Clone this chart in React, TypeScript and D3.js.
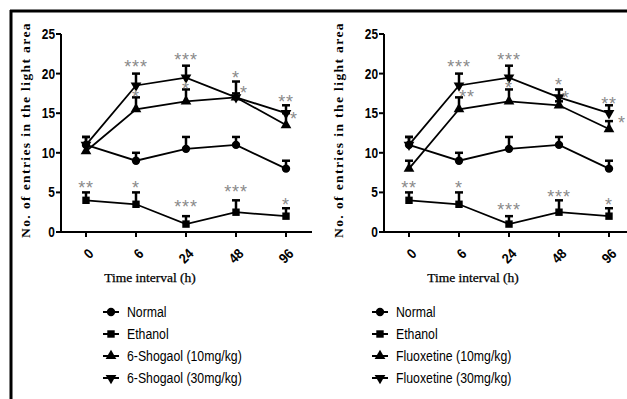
import React from "react";
import * as d3 from "d3";

const times = ["0", "6", "24", "48", "96"];
const yTicks = [0, 5, 10, 15, 20, 25];

// mean values + upper error
const normal = [11, 9, 10.5, 11, 8];
const normalErr = [1, 1, 1.5, 1, 1];
const ethanol = [4, 3.5, 1, 2.5, 2];
const ethanolErr = [1, 1.5, 1, 1.5, 1];

const shogaol10 = [10.2, 15.5, 16.5, 17, 13.5];
const shogaol10Err = [0.8, 1.5, 1.5, 0.5, 1.5];
const shogaol30 = [11, 18.5, 19.5, 17, 15];
const shogaol30Err = [1, 1.5, 1.5, 2, 1];

const fluox10 = [8, 15.5, 16.5, 16, 13];
const fluox10Err = [1, 1.5, 1.5, 0.5, 1];
const fluox30 = [11, 18.5, 19.5, 17, 15];
const fluox30Err = [1, 1.5, 1.5, 1, 1];

const legendLeft = ["Normal", "Ethanol", "6-Shogaol (10mg/kg)", "6-Shogaol (30mg/kg)"];
const legendRight = ["Normal", "Ethanol", "Fluoxetine (10mg/kg)", "Fluoxetine (30mg/kg)"];

// significance marks: [time index, value, text, dx]
const starsLeft: [number, number, string, number][] = [
  [1, 21.5, "***", 0], [1, 17.7, "*", 0],
  [2, 22.3, "***", 0], [2, 18.6, "*", 0],
  [3, 20.1, "*", 0], [3, 18.2, "*", 8],
  [4, 17.0, "**", 0], [4, 14.9, "*", 8],
  [0, 6.2, "**", 0], [1, 6.2, "*", 0], [2, 3.7, "***", 0],
  [3, 5.6, "***", 0], [4, 4.0, "*", 0],
];
const starsRight: [number, number, string, number][] = [
  [1, 21.5, "***", 0], [1, 17.7, "**", 8],
  [2, 22.3, "***", 0], [2, 18.8, "*", 0],
  [3, 19.2, "*", 0], [3, 17.5, "*", 7],
  [4, 16.8, "**", 0], [4, 14.4, "*", 13],
  [0, 6.2, "**", 0], [1, 6.2, "*", 0], [2, 3.4, "***", 0],
  [3, 5.0, "***", 0], [4, 4.0, "*", 0],
];

const symbols = [d3.symbolCircle, d3.symbolSquare, d3.symbolTriangle, d3.symbolTriangle];
const symSizes = [55, 55, 50, 50];
const sans = "'Liberation Sans', Arial, sans-serif";
const serif = "'Liberation Serif', 'Times New Roman', serif";

function Marker({ i, x, y }: { i: number; x: number; y: number }) {
  const p = d3.symbol().type(symbols[i]).size(symSizes[i])() || "";
  const rot = i === 3 ? 180 : 0;
  return <path d={p} transform={`translate(${x},${y}) rotate(${rot})`} fill="#000" />;
}

function Panel(props: {
  axisX: number;
  axisEnd: number;
  first: number;
  series: number[][];
  errs: number[][];
  stars: [number, number, string, number][];
  legend: string[];
  legendX: number;
  titleX: number;
}) {
  const { axisX, axisEnd, first, series, errs, stars, legend, legendX, titleX } = props;
  const y = d3.scaleLinear().domain([0, 25]).range([232, 34]);
  const x = d3.scalePoint<string>().domain(times).range([first, first + 200]);
  const line = d3
    .line<number>()
    .x((_, i) => x(times[i]) as number)
    .y((d) => y(d));
  // drug series first, then normal / ethanol on top
  const order = [2, 3, 0, 1];
  return (
    <g>
      {/* y axis */}
      <line x1={axisX} x2={axisX} y1={y(25)} y2={y(0)} stroke="#000" strokeWidth={2} />
      {yTicks.map((t) => (
        <g key={t}>
          <line x1={axisX - 5} x2={axisX} y1={y(t)} y2={y(t)} stroke="#000" strokeWidth={2} />
          <text transform={`translate(${axisX - 6},${y(t)}) scale(0.85,1)`} dy="0.36em" textAnchor="end"
            fontFamily={sans} fontWeight="bold" fontSize={14}>{t}</text>
        </g>
      ))}
      <text transform={`translate(${titleX},${(y(0) + y(25)) / 2 - 3}) rotate(-90)`} textAnchor="middle"
        fontFamily={serif} fontWeight="bold" fontSize={13.5} letterSpacing={1.4}>
        No. of entries in the light area
      </text>
      {/* x axis */}
      <line x1={axisX - 1} x2={axisEnd} y1={y(0)} y2={y(0)} stroke="#000" strokeWidth={2} />
      {times.map((t) => (
        <g key={t}>
          <line x1={x(t)} x2={x(t)} y1={y(0)} y2={y(0) + 5} stroke="#000" strokeWidth={2} />
          <text transform={`translate(${(x(t) as number) + 5},${y(0) + 19}) rotate(-45) scale(0.9,1)`}
            textAnchor="end" dy="0.35em" fontFamily={sans} fontWeight="bold" fontSize={14}>{t}</text>
        </g>
      ))}
      <text x={first + 64} y={282} textAnchor="middle" fontFamily={serif} fontSize={13.5}
        stroke="#000" strokeWidth={0.25}>Time interval (h)</text>
      {/* series */}
      {order.map((s) => (
        <g key={s}>
          {series[s].map((v, i) => {
            const cx = x(times[i]) as number;
            return (
              <g key={i}>
                <line x1={cx} x2={cx} y1={y(v)} y2={y(v + errs[s][i])} stroke="#000" strokeWidth={2.5} />
                <line x1={cx - 4} x2={cx + 4} y1={y(v + errs[s][i])} y2={y(v + errs[s][i])} stroke="#000"
                  strokeWidth={2.5} />
              </g>
            );
          })}
          <path d={line(series[s]) || ""} fill="none" stroke="#000" strokeWidth={1.8} />
          {series[s].map((v, i) => (
            <Marker key={i} i={s} x={x(times[i]) as number} y={y(v)} />
          ))}
        </g>
      ))}
      {/* significance */}
      {stars.map(([ti, v, txt, dx], k) => (
        <text key={k} x={(x(times[ti]) as number) + dx} y={y(v)} dy="0.6em" textAnchor="middle"
          fontFamily={sans} fontSize={18} fill="#8a8a8a" letterSpacing={0.8}>
          {txt}
        </text>
      ))}
      {/* legend */}
      {legend.map((name, i) => {
        const ly = 312 + i * 22;
        return (
          <g key={name}>
            <line x1={legendX - 8} x2={legendX + 8} y1={ly} y2={ly} stroke="#000" strokeWidth={2} />
            <Marker i={i} x={legendX} y={ly} />
            <text transform={`translate(${legendX + 16},${ly}) scale(0.82,1)`} dy="0.36em" fontFamily={sans}
              fontSize={15}>{name}</text>
          </g>
        );
      })}
    </g>
  );
}

export default function App() {
  return (
    <svg width={627} height={399} style={{ position: "absolute", left: 0, top: 0, background: "#fff" }}>
      <rect width={627} height={399} fill="#fff" />
      <line x1={10} x2={627} y1={11} y2={11} stroke="#000" strokeWidth={3} />
      <line x1={11} x2={11} y1={10} y2={399} stroke="#000" strokeWidth={3} />
      <Panel axisX={61} axisEnd={312} first={86} series={[normal, ethanol, shogaol10, shogaol30]}
        errs={[normalErr, ethanolErr, shogaol10Err, shogaol30Err]} stars={starsLeft} legend={legendLeft}
        legendX={111} titleX={30} />
      <Panel axisX={384} axisEnd={627} first={409} series={[normal, ethanol, fluox10, fluox30]}
        errs={[normalErr, ethanolErr, fluox10Err, fluox30Err]} stars={starsRight} legend={legendRight}
        legendX={380} titleX={343} />
    </svg>
  );
}
